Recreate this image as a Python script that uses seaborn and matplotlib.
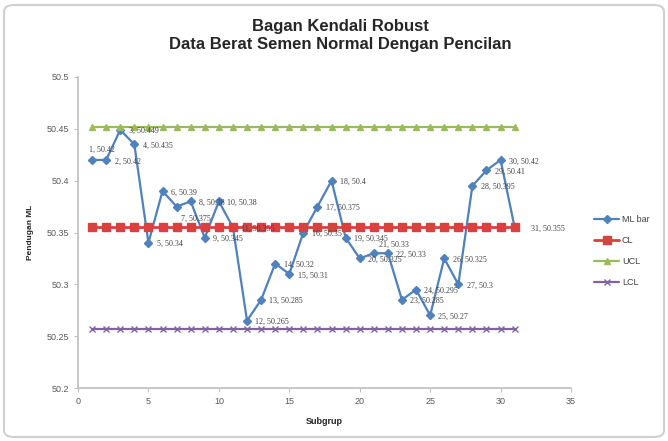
import numpy as np
import pandas as pd
import matplotlib
matplotlib.use("Agg")
import matplotlib.pyplot as plt
import seaborn as sns
from matplotlib.patches import FancyBboxPatch

subgroups = list(range(1, 32))
ml_bar = [50.42, 50.42, 50.449, 50.435, 50.34, 50.39, 50.375, 50.38, 50.345, 50.38,
          50.355, 50.265, 50.285, 50.32, 50.31, 50.35, 50.375, 50.4, 50.345, 50.325,
          50.33, 50.33, 50.285, 50.295, 50.27, 50.325, 50.3, 50.395, 50.41, 50.42, 50.355]
cl_value = 50.355
ucl_value = 50.452
lcl_value = 50.257
series_names = ["ML bar", "CL", "UCL", "LCL"]
title_text = "Bagan Kendali Robust\nData Berat Semen Normal Dengan Pencilan"
x_label = "Subgrup"
y_label = "Pendugan ML"
x_ticks = [0, 5, 10, 15, 20, 25, 30, 35]
y_ticks = [50.2, 50.25, 50.3, 50.35, 50.4, 50.45, 50.5]

sns.set_style("white")
plt.rcParams['font.family'] = ['Liberation Sans', 'DejaVu Sans']

fig = plt.figure(figsize=(6.68, 4.41), dpi=100)
ax = fig.add_axes([78/668, 1-388/441, (571-78)/668, (388-77)/441])

df = pd.DataFrame({"Subgrup": subgroups, "ML bar": ml_bar,
                   "CL": [cl_value]*len(subgroups),
                   "UCL": [ucl_value]*len(subgroups),
                   "LCL": [lcl_value]*len(subgroups)})

colors = {"ML bar": "#4F81BD", "CL": "#D9413E", "UCL": "#9BBB59", "LCL": "#8064A2"}
markers = {"ML bar": "D", "CL": "s", "UCL": "^", "LCL": "x"}
msize = {"ML bar": 4, "CL": 6, "UCL": 4.5, "LCL": 4}
lw = {"ML bar": 1.6, "CL": 2.0, "UCL": 1.6, "LCL": 1.6}

for name in series_names:
    sns.lineplot(data=df, x="Subgrup", y=name, ax=ax, color=colors[name],
                 marker=markers[name], markersize=msize[name], linewidth=lw[name],
                 markeredgecolor=colors[name], markeredgewidth=1.0, label=name)

label_offsets = {1: (-2, 7), 7: (3, -9), 21: (4, 6), 31: (12, -1)}
for x, v in zip(subgroups, ml_bar):
    off = label_offsets.get(x, (6, -1))
    ax.annotate(f"{x}, {v:g}", (x, v), xytext=off, textcoords="offset points",
                fontsize=5.8, color="#404040", va="center", ha="left",
                family=["Liberation Serif", "DejaVu Serif"])

ax.set_xlim(0, 35)
ax.set_ylim(50.2, 50.5)
ax.set_xticks(x_ticks)
ax.set_yticks(y_ticks)
ax.set_xticklabels([str(t) for t in x_ticks])
ax.set_yticklabels([f"{t:g}" for t in y_ticks])
ax.tick_params(axis="both", labelsize=6.5, colors="#595959", length=3, direction="out",
               left=True, bottom=True, color="#BFBFBF")
for s in ["top", "right"]:
    ax.spines[s].set_visible(False)
for s in ["left", "bottom"]:
    ax.spines[s].set_color("#BFBFBF")
    ax.spines[s].set_linewidth(1.2)
ax.grid(False)

ax.set_xlabel(x_label, fontsize=6.5, fontweight="bold", color="#262626", labelpad=8)
ax.set_ylabel(y_label, fontsize=6, fontweight="bold", color="#262626", labelpad=9)

leg = ax.legend(loc="center left", bbox_to_anchor=(1.03, 0.44), frameon=False,
                fontsize=6.5, handlelength=2.8, labelspacing=1.35, handletextpad=0.3)
for t in leg.get_texts():
    t.set_color("#404040")

fig.text(0.51, 1-36/441, title_text, ha="center", va="center", fontsize=12,
         fontweight="bold", color="#262626", linespacing=1.25)

border = FancyBboxPatch((4/668, 4/441), 660/668, 432/441, boxstyle="round,pad=0,rounding_size=0.015",
                        transform=fig.transFigure, fill=False, edgecolor="#D0D0D0", linewidth=1.5)
fig.patches.append(border)

fig.savefig("out.png", dpi=100)
